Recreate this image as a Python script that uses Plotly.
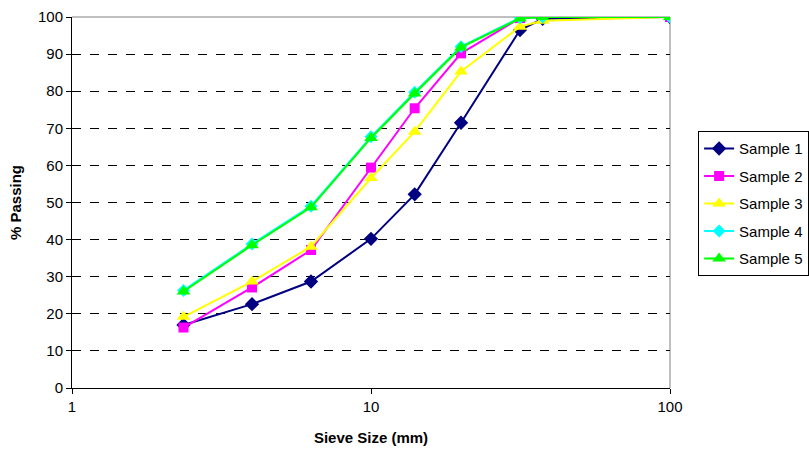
import plotly.graph_objects as go

sieve = [2.36, 4.0, 6.3, 10, 14, 20, 31.5, 37.5, 100]
sample1 = [17.0, 22.6, 28.7, 40.2, 52.2, 71.5, 96.5, 99.5, 100]
sample2 = [16.3, 27.1, 37.2, 59.4, 75.4, 90.2, 99.7, 100, 100]
sample3 = [19.2, 28.7, 38.1, 56.6, 69.1, 85.3, 97.4, 99.0, 100]
sample4 = [26.3, 38.8, 49.0, 67.7, 79.7, 92.0, 99.8, 100, 100]
sample5 = [26.0, 38.5, 48.7, 67.4, 79.4, 91.8, 99.6, 100, 100]
names = ["Sample 1", "Sample 2", "Sample 3", "Sample 4", "Sample 5"]
colors = ["#000080", "#FF00FF", "#FFFF00", "#00FFFF", "#00FF00"]
symbols = ["diamond", "square", "triangle-up", "diamond", "triangle-up"]
sizes = [11, 10, 12, 10, 12]
ytick_vals = list(range(0, 101, 10))
xtick_vals = [1, 10, 100]

fig = go.Figure()
for i, (nm, ys, c, s, sz) in enumerate(zip(names, [sample1, sample2, sample3, sample4, sample5], colors, symbols, sizes)):
    fig.add_trace(go.Scatter(
        x=sieve, y=ys, name=nm, mode="lines+markers", legendgroup=f"g{i}",
        line=dict(color=c, width=2),
        marker=dict(symbol=s, size=sz, color=c),
    ))

font_family = "Liberation Sans, Arial, sans-serif"
fig.update_layout(
    width=809, height=457,
    margin=dict(l=72, r=139, t=17, b=69, autoexpand=False),
    paper_bgcolor="white", plot_bgcolor="white",
    font=dict(family=font_family, size=15, color="black"),
    showlegend=True,
    legend=dict(
        x=1.047, y=0.692, xanchor="left", yanchor="top",
        bordercolor="black", borderwidth=1,
        font=dict(size=15, family=font_family),
        itemwidth=30, tracegroupgap=5, traceorder="grouped",
    ),
    xaxis=dict(
        type="log", range=[0, 2], tickvals=xtick_vals, ticktext=[str(v) for v in xtick_vals],
        showgrid=False, showline=True, linecolor="black", linewidth=1,
        ticks="outside", ticklen=5, tickcolor="black", zeroline=False,
        title=dict(text="<b>Sieve Size (mm)</b>", font=dict(size=15), standoff=18),
    ),
    yaxis=dict(
        range=[0, 100], tickvals=ytick_vals,
        showgrid=True, gridcolor="black", griddash="dash", gridwidth=1,
        showline=True, linecolor="black", linewidth=1,
        ticks="outside", ticklen=5, tickcolor="black", zeroline=False,
        title=dict(text="<b>% Passing</b>", font=dict(size=15), standoff=12),
    ),
    shapes=[
        dict(type="line", xref="paper", yref="paper", x0=0, x1=1, y0=1, y1=1,
             line=dict(color="#808080", width=1), layer="below"),
        dict(type="line", xref="paper", yref="paper", x0=1, x1=1, y0=0, y1=1,
             line=dict(color="#808080", width=1), layer="below"),
    ],
)
fig.write_html("out.html")
